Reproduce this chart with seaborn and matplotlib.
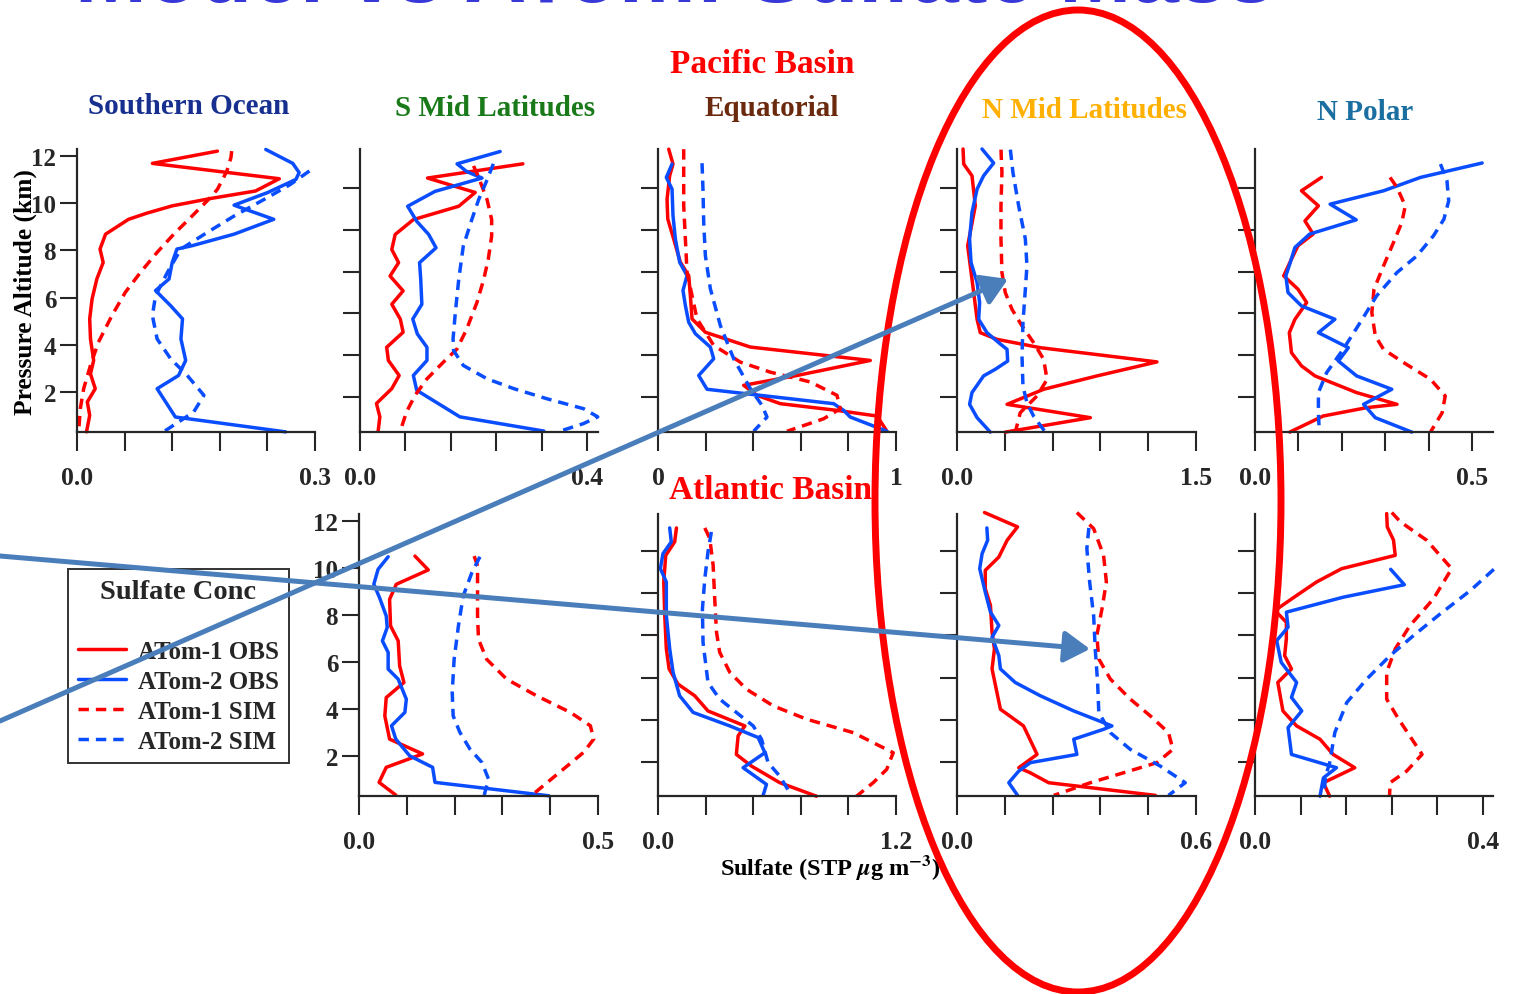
import numpy as np
import pandas as pd
import matplotlib
matplotlib.use("Agg")
import matplotlib.pyplot as plt
import seaborn as sns
from matplotlib.lines import Line2D
from matplotlib.patches import Ellipse, FancyArrowPatch

# ---------------- data (sulfate, STP ug m-3 vs pressure altitude, km) ----------------
# Pacific basin : Southern Ocean
so_a1obs_z = [12.21, 11.69, 11.04, 10.52, 10.2, 9.89, 9.58, 9.32, 8.69, 8.06, 7.49, 6.79, 5.94, 5.1, 4.25, 3.34, 2.77, 2.14, 1.58, 1.01, 0.31]
so_a1obs = [0.177, 0.095, 0.255, 0.225, 0.168, 0.12, 0.088, 0.065, 0.036, 0.029, 0.033, 0.025, 0.019, 0.016, 0.017, 0.021, 0.017, 0.023, 0.013, 0.016, 0.012]
so_a2obs_z = [12.28, 11.69, 11.3, 11.01, 10.45, 9.92, 9.82, 9.32, 8.69, 8.2, 8.06, 7.49, 6.79, 6.3, 5.66, 5.1, 4.25, 3.34, 2.7, 2.14, 0.94, 0.31]
so_a2obs = [0.238, 0.272, 0.28, 0.276, 0.24, 0.198, 0.206, 0.248, 0.198, 0.145, 0.126, 0.12, 0.116, 0.099, 0.118, 0.133, 0.131, 0.137, 0.128, 0.101, 0.124, 0.263]
so_a1sim_z = [12.21, 11.93, 11.37, 10.59, 10.1, 9.39, 8.69, 7.92, 7.07, 6.23, 5.24, 4.11, 3.13, 2.14, 1.3, 0.31]
so_a1sim = [0.195, 0.194, 0.189, 0.177, 0.164, 0.143, 0.122, 0.101, 0.08, 0.061, 0.044, 0.027, 0.017, 0.0084, 0.0042, 0.002]
so_a2sim_z = [11.37, 10.8, 10.24, 9.46, 8.76, 8.06, 7.07, 6.08, 5.24, 4.25, 3.41, 2.7, 1.86, 1.15, 0.73, 0.31]
so_a2sim = [0.293, 0.269, 0.24, 0.198, 0.164, 0.131, 0.114, 0.099, 0.095, 0.101, 0.118, 0.139, 0.16, 0.147, 0.128, 0.109]

# Pacific basin : S Mid Latitudes
psm_a1obs_z = [13.16, 12.48, 11.79, 11.13, 10.49, 9.78, 9.06, 8.43, 7.79, 7.08, 6.44, 5.73, 5.1, 4.38, 3.75, 3.03, 2.4, 1.69, 1.05, 0.37]
psm_a1obs = [0.287, 0.119, 0.203, 0.174, 0.094, 0.062, 0.056, 0.068, 0.053, 0.076, 0.056, 0.071, 0.076, 0.047, 0.05, 0.069, 0.056, 0.029, 0.035, 0.032]
psm_a2obs_z = [13.75, 13.16, 12.79, 12.48, 11.84, 11.13, 10.41, 9.78, 9.14, 8.43, 7.63, 6.44, 5.73, 5.02, 4.38, 3.75, 3.03, 2.32, 1.05, 0.37]
psm_a2obs = [0.247, 0.171, 0.188, 0.215, 0.132, 0.084, 0.1, 0.121, 0.134, 0.105, 0.107, 0.109, 0.093, 0.101, 0.118, 0.118, 0.094, 0.1, 0.176, 0.324]
psm_a1sim_z = [13.06, 12.71, 12.08, 11.44, 10.49, 9.7, 8.59, 7.63, 6.52, 5.25, 4.3, 3.67, 2.87, 2.08, 1.29, 0.37]
psm_a1sim = [0.2, 0.206, 0.215, 0.224, 0.232, 0.232, 0.226, 0.218, 0.206, 0.188, 0.171, 0.147, 0.118, 0.097, 0.082, 0.071]
psm_a2sim_z = [13.16, 12.4, 11.44, 10.49, 9.22, 7.63, 6.05, 4.78, 4.22, 3.51, 2.87, 2.4, 1.92, 1.44, 1.05, 0.73, 0.37]
psm_a2sim = [0.235, 0.224, 0.209, 0.197, 0.182, 0.174, 0.168, 0.164, 0.165, 0.182, 0.224, 0.271, 0.329, 0.394, 0.419, 0.394, 0.353]

# Pacific basin : Equatorial
peq_a1obs_z = [13.86, 13.15, 12.59, 11.47, 10.52, 9.56, 8.45, 7.81, 6.86, 5.74, 5.1, 4.39, 3.75, 3.03, 2.56, 2.08, 1.68, 1.36, 1.09, 0.36]
peq_a1obs = [0.045, 0.063, 0.049, 0.038, 0.041, 0.066, 0.094, 0.129, 0.136, 0.143, 0.199, 0.388, 0.892, 0.584, 0.36, 0.416, 0.514, 0.752, 0.92, 0.962]
peq_a2obs_z = [13.15, 12.51, 11.95, 10.68, 9.56, 8.45, 7.81, 7.1, 6.38, 5.58, 5.03, 4.39, 3.83, 3.03, 2.37, 1.68, 1.36, 1.04, 0.36]
peq_a2obs = [0.059, 0.035, 0.059, 0.063, 0.073, 0.091, 0.122, 0.105, 0.115, 0.129, 0.157, 0.22, 0.234, 0.171, 0.206, 0.738, 0.78, 0.808, 0.962]
peq_a1sim_z = [13.86, 12.75, 11.16, 9.56, 7.97, 5.74, 4.47, 3.67, 3.19, 2.72, 2.08, 1.44, 0.96, 0.36]
peq_a1sim = [0.108, 0.108, 0.108, 0.115, 0.122, 0.164, 0.234, 0.346, 0.472, 0.64, 0.752, 0.766, 0.696, 0.542]
peq_a2sim_z = [13.19, 11.95, 10.36, 8.77, 7.18, 5.42, 3.83, 2.4, 1.6, 1.04, 0.36]
peq_a2sim = [0.185, 0.189, 0.192, 0.199, 0.22, 0.262, 0.318, 0.388, 0.437, 0.458, 0.402]

# Pacific basin : N Mid Latitudes
pnm_a1obs_z = [13.87, 13.15, 12.59, 11.15, 9.24, 7.64, 5.72, 5.08, 4.76, 4.36, 3.68, 3.01, 2.37, 1.65, 1.01, 0.32]
pnm_a1obs = [0.038, 0.042, 0.094, 0.115, 0.067, 0.094, 0.126, 0.146, 0.251, 0.523, 1.255, 0.879, 0.544, 0.314, 0.837, 0.303]
pnm_a2obs_z = [13.87, 13.2, 12.59, 11.95, 10.83, 9.56, 8.44, 7.48, 6.52, 5.72, 5.08, 4.6, 4.28, 3.72, 3.33, 3.01, 2.21, 1.65, 1.01, 0.32]
pnm_a2obs = [0.157, 0.23, 0.167, 0.126, 0.094, 0.079, 0.088, 0.126, 0.142, 0.136, 0.188, 0.262, 0.314, 0.318, 0.241, 0.167, 0.094, 0.079, 0.126, 0.209]
pnm_a1sim_z = [13.84, 12.75, 11.15, 9.56, 7.96, 7.0, 6.2, 5.4, 4.6, 3.8, 2.84, 2.05, 1.25, 0.32]
pnm_a1sim = [0.276, 0.282, 0.276, 0.276, 0.282, 0.303, 0.345, 0.408, 0.481, 0.544, 0.565, 0.502, 0.397, 0.366]
pnm_a2sim_z = [13.84, 12.75, 11.15, 9.56, 8.28, 7.16, 5.56, 3.96, 2.52, 1.72, 1.08, 0.32]
pnm_a2sim = [0.335, 0.351, 0.387, 0.429, 0.439, 0.429, 0.414, 0.408, 0.414, 0.439, 0.481, 0.554]

# Pacific basin : N Polar
pnp_a1obs_z = [12.51, 11.87, 11.15, 10.43, 9.8, 9.24, 8.6, 7.8, 7.16, 6.52, 5.72, 5.08, 4.12, 3.49, 3.01, 2.21, 1.65, 1.49, 1.09, 0.32]
pnp_a1obs = [0.153, 0.107, 0.146, 0.115, 0.134, 0.099, 0.084, 0.066, 0.099, 0.119, 0.092, 0.079, 0.084, 0.107, 0.138, 0.234, 0.327, 0.257, 0.157, 0.08]
pnp_a2obs_z = [13.2, 12.51, 11.87, 11.23, 10.48, 9.8, 9.16, 8.36, 7.8, 7.0, 6.36, 5.72, 5.08, 4.36, 3.72, 3.01, 2.37, 1.65, 1.01, 0.32]
pnp_a2obs = [0.523, 0.381, 0.296, 0.173, 0.233, 0.126, 0.092, 0.08, 0.071, 0.076, 0.107, 0.184, 0.146, 0.215, 0.192, 0.234, 0.315, 0.25, 0.277, 0.361]
pnp_a1sim_z = [12.51, 12.03, 11.15, 10.35, 9.4, 8.28, 7.16, 6.04, 4.92, 4.28, 3.65, 2.85, 2.05, 1.25, 0.32]
pnp_a1sim = [0.311, 0.327, 0.346, 0.338, 0.319, 0.296, 0.274, 0.269, 0.277, 0.296, 0.342, 0.404, 0.438, 0.431, 0.404]
pnp_a2sim_z = [13.15, 12.35, 11.39, 10.51, 9.72, 8.76, 7.96, 6.84, 5.56, 4.28, 3.17, 2.21, 1.25, 0.32]
pnp_a2sim = [0.427, 0.442, 0.446, 0.435, 0.411, 0.373, 0.327, 0.28, 0.242, 0.203, 0.165, 0.146, 0.146, 0.148]

# Atlantic basin : S Mid Latitudes
asm_a1obs_z = [10.51, 9.92, 9.31, 8.67, 7.54, 6.9, 5.84, 5.13, 4.49, 3.71, 2.72, 2.09, 1.52, 0.88, 0.34]
asm_a1obs = [0.117, 0.145, 0.078, 0.064, 0.066, 0.082, 0.085, 0.094, 0.057, 0.054, 0.064, 0.133, 0.057, 0.042, 0.077]
asm_a2obs_z = [10.48, 9.95, 9.31, 8.74, 7.96, 7.47, 6.9, 6.41, 5.7, 5.27, 4.42, 3.86, 3.29, 2.72, 2.01, 1.52, 0.88, 0.31]
asm_a2obs = [0.061, 0.04, 0.031, 0.043, 0.057, 0.059, 0.049, 0.061, 0.061, 0.082, 0.099, 0.096, 0.068, 0.077, 0.106, 0.154, 0.159, 0.397]
asm_a1sim_z = [10.51, 10.09, 8.95, 7.96, 6.97, 6.12, 5.27, 4.56, 3.86, 3.29, 2.72, 2.16, 1.45, 0.34]
asm_a1sim = [0.241, 0.248, 0.248, 0.248, 0.25, 0.267, 0.309, 0.372, 0.442, 0.484, 0.491, 0.47, 0.428, 0.362]
asm_a2sim_z = [10.48, 9.8, 8.81, 7.54, 6.12, 4.71, 3.71, 3.01, 2.3, 1.73, 1.02, 0.34]
asm_a2sim = [0.253, 0.236, 0.218, 0.208, 0.199, 0.195, 0.197, 0.211, 0.232, 0.257, 0.271, 0.262]

# Atlantic basin : Equatorial
aeq_a1obs_z = [13.09, 12.43, 11.79, 10.53, 8.94, 7.36, 6.41, 5.69, 5.14, 4.42, 3.71, 3.24, 2.36, 1.81, 1.02, 0.38]
aeq_a1obs = [0.093, 0.084, 0.039, 0.029, 0.034, 0.042, 0.056, 0.101, 0.185, 0.252, 0.438, 0.404, 0.395, 0.471, 0.614, 0.799]
aeq_a2obs_z = [13.09, 12.43, 11.87, 11.16, 10.53, 8.94, 7.36, 6.25, 5.14, 4.35, 3.71, 3.16, 2.44, 1.73, 0.94, 0.42]
aeq_a2obs = [0.059, 0.067, 0.025, 0.012, 0.042, 0.042, 0.059, 0.076, 0.109, 0.177, 0.362, 0.505, 0.539, 0.429, 0.547, 0.53]
aeq_a1sim_z = [13.09, 12.59, 11.32, 9.73, 8.15, 7.2, 6.25, 5.45, 4.66, 4.03, 3.39, 2.44, 1.65, 1.02, 0.38]
aeq_a1sim = [0.236, 0.261, 0.278, 0.286, 0.295, 0.311, 0.362, 0.446, 0.581, 0.749, 0.985, 1.186, 1.153, 1.085, 1.001]
aeq_a2sim_z = [12.9, 11.95, 10.68, 9.26, 7.67, 5.77, 4.98, 4.35, 3.71, 3.08, 1.97, 1.33, 0.54]
aeq_a2sim = [0.269, 0.252, 0.236, 0.224, 0.227, 0.252, 0.311, 0.395, 0.48, 0.522, 0.555, 0.614, 0.665]

# Atlantic basin : N Mid Latitudes
anm_a1obs_z = [13.82, 13.14, 12.51, 11.71, 11.08, 10.21, 9.42, 8.15, 7.36, 6.41, 4.5, 3.71, 2.36, 1.73, 1.49, 1.02, 0.42]
anm_a1obs = [0.069, 0.152, 0.126, 0.105, 0.071, 0.071, 0.084, 0.088, 0.094, 0.088, 0.109, 0.167, 0.201, 0.155, 0.184, 0.23, 0.498]
anm_a2obs_z = [13.09, 12.51, 11.87, 11.16, 10.05, 9.1, 8.47, 7.91, 7.04, 6.41, 5.77, 5.14, 4.42, 3.71, 3.55, 3.08, 2.36, 1.97, 1.57, 1.02, 0.42]
anm_a2obs = [0.075, 0.077, 0.063, 0.057, 0.071, 0.084, 0.105, 0.088, 0.105, 0.109, 0.146, 0.209, 0.293, 0.389, 0.368, 0.293, 0.301, 0.184, 0.155, 0.13, 0.152]
anm_a1sim_z = [13.82, 13.06, 11.79, 10.53, 9.26, 7.99, 6.88, 5.93, 4.98, 4.19, 3.39, 2.6, 1.97, 1.49, 1.02, 0.42]
anm_a1sim = [0.301, 0.343, 0.368, 0.375, 0.364, 0.351, 0.356, 0.385, 0.435, 0.485, 0.531, 0.542, 0.502, 0.418, 0.335, 0.243]
anm_a2sim_z = [13.09, 12.11, 10.53, 8.94, 7.36, 5.77, 4.35, 3.39, 2.6, 1.81, 1.02, 0.42]
anm_a2sim = [0.331, 0.326, 0.333, 0.343, 0.347, 0.353, 0.356, 0.385, 0.435, 0.51, 0.573, 0.531]

# Atlantic basin : N Polar
anp_a1obs_z = [13.77, 13.14, 12.51, 11.79, 11.16, 10.53, 9.89, 9.18, 8.62, 7.83, 7.04, 6.41, 5.77, 4.42, 3.71, 3.08, 2.36, 1.73, 1.02, 0.38]
anp_a1obs = [0.231, 0.232, 0.243, 0.246, 0.152, 0.108, 0.073, 0.035, 0.055, 0.055, 0.052, 0.064, 0.04, 0.049, 0.073, 0.114, 0.137, 0.175, 0.12, 0.131]
anp_a2obs_z = [11.13, 10.4, 9.81, 9.1, 8.39, 7.75, 6.72, 5.77, 5.06, 4.42, 3.63, 2.36, 1.73, 1.25, 0.38]
anp_a2obs = [0.238, 0.262, 0.155, 0.055, 0.058, 0.038, 0.046, 0.073, 0.064, 0.082, 0.058, 0.064, 0.143, 0.12, 0.114]
anp_a1sim_z = [13.82, 13.38, 12.51, 11.16, 9.73, 8.47, 7.36, 6.25, 4.98, 4.03, 2.36, 1.57, 1.02, 0.38]
anp_a1sim = [0.24, 0.255, 0.301, 0.345, 0.313, 0.272, 0.246, 0.231, 0.231, 0.252, 0.293, 0.266, 0.237, 0.236]
anp_a2sim_z = [11.13, 10.13, 9.02, 7.99, 7.04, 5.93, 4.82, 3.39, 1.97, 1.33, 0.38]
anp_a2sim = [0.419, 0.378, 0.325, 0.278, 0.237, 0.196, 0.161, 0.14, 0.131, 0.124, 0.12]

series_names = ["ATom-1 OBS", "ATom-2 OBS", "ATom-1 SIM", "ATom-2 SIM"]
region_titles = ["Southern Ocean", "S Mid Latitudes", "Equatorial", "N Mid Latitudes", "N Polar"]
x_max_labels_top = ["0.3", "0.4", "1", "1.5", "0.5"]
x_max_labels_bot = ["0.5", "1.2", "0.6", "0.4"]

# ---------------- style ----------------
sns.set_style("ticks")
plt.rcParams["font.family"] = ["Liberation Serif", "DejaVu Serif"]
plt.rcParams["font.weight"] = "bold"
plt.rcParams["mathtext.fontset"] = "stix"

RED = "#ff0000"
BLUE = "#0a4dff"
LW = 2.5
DASH = (0, (3, 2))
colors = [RED, BLUE, RED, BLUE]
styles = ["-", "-", DASH, DASH]

W, H = 1515, 995
fig = plt.figure(figsize=(W / 100, H / 100), dpi=100)


def px_axes(x0, x1, y0, y1):
    return fig.add_axes([x0 / W, 1 - y1 / H, (x1 - x0) / W, (y1 - y0) / H])


def draw_panel(ax, series, xmax, step, ylim, xlab0, xlab1, ylabels):
    for (vals, alts), c, ls in zip(series, colors, styles):
        sns.lineplot(x=vals, y=alts, sort=False, estimator=None, color=c,
                     linestyle=ls, lw=LW, ax=ax, clip_on=False)
    ax.set_xlim(0, xmax)
    ax.set_ylim(*ylim)
    ticks = np.arange(0, 6) * step
    ax.set_xticks(ticks)
    ax.set_xticklabels([xlab0, "", "", "", "", xlab1])
    ax.set_yticks([2, 4, 6, 8, 10, 12])
    if ylabels:
        ax.set_yticklabels(["2", "4", "6", "8", "10", "12"])
    else:
        ax.set_yticklabels([])
    for s in ["top", "right"]:
        ax.spines[s].set_visible(False)
    for s in ["left", "bottom"]:
        ax.spines[s].set_linewidth(1.6)
    ax.tick_params(axis="x", direction="out", length=13.5, width=1.5, pad=11, labelsize=18.5)
    ax.tick_params(axis="y", direction="out", length=12, width=1.5, pad=3, labelsize=18)
    ax.set_xlabel("")
    ax.set_ylabel("")
    ax.patch.set_alpha(0)


# top row (Pacific)
top_y = (150, 433)
top_panels = [
    ((77, 315), [(so_a1obs, so_a1obs_z), (so_a2obs, so_a2obs_z), (so_a1sim, so_a1sim_z), (so_a2sim, so_a2sim_z)],
     0.3, 0.06, (0.305, 12.3), "0.0", True),
    ((360, 598), [(psm_a1obs, psm_a1obs_z), (psm_a2obs, psm_a2obs_z), (psm_a1sim, psm_a1sim_z), (psm_a2sim, psm_a2sim_z)],
     0.4194, 0.08, (0.325, 13.87), "0.0", False),
    ((658, 896), [(peq_a1obs, peq_a1obs_z), (peq_a2obs, peq_a2obs_z), (peq_a1sim, peq_a1sim_z), (peq_a2sim, peq_a2sim_z)],
     1.0, 0.2, (0.325, 13.87), "0", False),
    ((957, 1196), [(pnm_a1obs, pnm_a1obs_z), (pnm_a2obs, pnm_a2obs_z), (pnm_a1sim, pnm_a1sim_z), (pnm_a2sim, pnm_a2sim_z)],
     1.5, 0.3, (0.325, 13.87), "0.0", False),
    ((1255, 1493), [(pnp_a1obs, pnp_a1obs_z), (pnp_a2obs, pnp_a2obs_z), (pnp_a1sim, pnp_a1sim_z), (pnp_a2sim, pnp_a2sim_z)],
     0.548, 0.1, (0.325, 13.87), "0.0", False),
]
for (xr, ser, xmax, step, ylim, lab0, ylab), lab1 in zip(top_panels, x_max_labels_top):
    ax = px_axes(xr[0], xr[1], *top_y)
    draw_panel(ax, ser, xmax, step, ylim, lab0, lab1, ylab)

# bottom row (Atlantic)
bot_y = (515, 797)
bot_panels = [
    ((359, 598), [(asm_a1obs, asm_a1obs_z), (asm_a2obs, asm_a2obs_z), (asm_a1sim, asm_a1sim_z), (asm_a2sim, asm_a2sim_z)],
     0.5, 0.1, (0.30, 12.3), True),
    ((658, 896), [(aeq_a1obs, aeq_a1obs_z), (aeq_a2obs, aeq_a2obs_z), (aeq_a1sim, aeq_a1sim_z), (aeq_a2sim, aeq_a2sim_z)],
     1.2, 0.24, (0.39, 13.75), False),
    ((957, 1196), [(anm_a1obs, anm_a1obs_z), (anm_a2obs, anm_a2obs_z), (anm_a1sim, anm_a1sim_z), (anm_a2sim, anm_a2sim_z)],
     0.6, 0.12, (0.39, 13.75), False),
    ((1255, 1493), [(anp_a1obs, anp_a1obs_z), (anp_a2obs, anp_a2obs_z), (anp_a1sim, anp_a1sim_z), (anp_a2sim, anp_a2sim_z)],
     0.4175, 0.08, (0.39, 13.75), False),
]
for (xr, ser, xmax, step, ylim, ylab), lab1 in zip(bot_panels, x_max_labels_bot):
    ax = px_axes(xr[0], xr[1], *bot_y)
    draw_panel(ax, ser, xmax, step, ylim, "0.0", lab1, ylab)

# ---------------- texts ----------------
def ftext(x, y, s, **kw):
    fig.text(x / W, 1 - y / H, s, ha="center", va="center", fontweight="bold", **kw)

title_colors = ["#17308f", "#1a7a1a", "#6b2a0d", "#ffb000", "#1b6fa0"]
title_x = [189, 495, 772, 1085, 1365]
title_y = [107, 108, 108, 110, 112]
for t, c, x, y in zip(region_titles, title_colors, title_x, title_y):
    ftext(x, y, t, color=c, fontsize=21)
ftext(762, 65, "Pacific Basin", color=RED, fontsize=24)
ftext(770, 491, "Atlantic Basin", color=RED, fontsize=24)
ftext(25, 292, "Pressure Altitude (km)", color="black", fontsize=18.3, rotation=90)
ftext(830, 868, r"Sulfate (STP $\mu$g m$^{-3}$)", color="black", fontsize=17.5)

# slide title, mostly cut off by the top edge
fig.text(675 / W, 1 - 2 / H, "Model vs ATom: Sulfate Mass", ha="center", va="baseline",
         color="#3838d8", fontsize=62, family="Liberation Sans")

# legend
handles = [Line2D([], [], color=c, lw=LW, linestyle=ls) for c, ls in zip(colors, styles)]
leg = fig.legend(handles, series_names, loc="upper left", bbox_to_anchor=(68 / W, 1 - 570 / H),
                 borderaxespad=0, title="Sulfate Conc\n", fontsize=18, title_fontsize=20.5,
                 frameon=True, fancybox=False, handlelength=1.9, handletextpad=0.5,
                 labelspacing=0.28, borderpad=0.4)
leg.get_title().set_fontweight("bold")
leg.get_frame().set_edgecolor("black")
leg.get_frame().set_linewidth(1.4)

# annotations: red ellipse and blue arrows
ell = Ellipse((1078 / W, 1 - 502 / H), 406 / W, 982 / H, transform=fig.transFigure,
              fill=False, edgecolor=RED, lw=5, zorder=20)
fig.add_artist(ell)
ARROW = "#4a7ebb"
for (xa, ya), (xb, yb) in [((0, 722), (1008, 280)), ((0, 557), (1090, 650))]:
    arr = FancyArrowPatch((xa / W, 1 - ya / H), (xb / W, 1 - yb / H), transform=fig.transFigure,
                          arrowstyle="-|>,head_length=0.65,head_width=0.4", mutation_scale=24,
                          color=ARROW, lw=3.6, shrinkA=0, shrinkB=0, zorder=25)
    fig.add_artist(arr)

fig.savefig("out.png", dpi=100)
